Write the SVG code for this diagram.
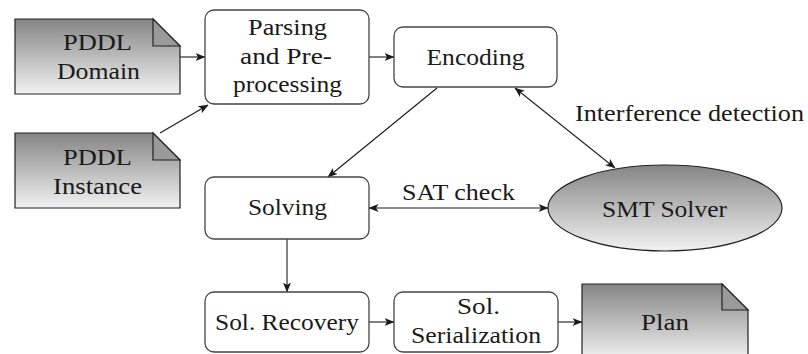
<svg xmlns="http://www.w3.org/2000/svg" width="808" height="354" viewBox="0 0 808 354">
<defs>
<linearGradient id="g" x1="0" y1="0" x2="0" y2="1">
<stop offset="0" stop-color="#858585"/>
<stop offset="1" stop-color="#f2f2f2"/>
</linearGradient>
<marker id="a" viewBox="0 0 10 8" refX="9.5" refY="4" markerWidth="10" markerHeight="8" markerUnits="userSpaceOnUse" orient="auto-start-reverse">
<path d="M0,0 L10,4 L0,8 L2.5,4 Z" fill="#1a1a1a"/>
</marker>
<style>
.box{fill:#fff;stroke:#444;stroke-width:1.3}
.doc{fill:url(#g);stroke:#222;stroke-width:1.2}
.fold{fill:#9a9a9a;stroke:#222;stroke-width:1.2}
.ln{fill:none;stroke:#1a1a1a;stroke-width:1.1;marker-end:url(#a)}
.bi{marker-start:url(#a)}
text{font-size:22.5px;fill:#1a1a1a;text-anchor:middle}
</style>
</defs>
<rect width="808" height="354" fill="#fff"/>
<g font-family="Liberation Serif, DejaVu Serif, Times New Roman, serif">
<g id="connectors">
<line class="ln" x1="180" y1="57" x2="205" y2="57"/>
<line class="ln" x1="160" y1="133" x2="208" y2="105"/>
<line class="ln" x1="369" y1="57" x2="394" y2="57"/>
<line class="ln" x1="437" y1="88" x2="328" y2="177"/>
<line class="ln bi" x1="515" y1="88" x2="615" y2="168"/>
<line class="ln bi" x1="369" y1="208" x2="548" y2="208"/>
<line class="ln" x1="287" y1="239" x2="287" y2="292"/>
<line class="ln" x1="369" y1="322" x2="394" y2="322"/>
<line class="ln" x1="558" y1="322" x2="582" y2="322"/>
<text x="689.5" y="121" textLength="229" lengthAdjust="spacingAndGlyphs">Interference detection</text>
<text x="458.5" y="200" textLength="113" lengthAdjust="spacingAndGlyphs">SAT check</text>
</g>
<g id="pddl-domain">
<path class="doc" d="M15,19 H153 L180,46 V94 H15 Z"/>
<path class="fold" d="M153,19 L180,46 H153 Z"/>
<text x="97.5" y="50" textLength="69" lengthAdjust="spacingAndGlyphs">PDDL</text>
<text x="98.5" y="79" textLength="83" lengthAdjust="spacingAndGlyphs">Domain</text>
</g>
<g id="pddl-instance">
<path class="doc" d="M15,133 H153 L180,160 V208 H15 Z"/>
<path class="fold" d="M153,133 L180,160 H153 Z"/>
<text x="97.5" y="165" textLength="69" lengthAdjust="spacingAndGlyphs">PDDL</text>
<text x="97.5" y="194" textLength="89" lengthAdjust="spacingAndGlyphs">Instance</text>
</g>
<g id="parsing">
<rect class="box" x="205" y="10" width="164" height="94" rx="9"/>
<text x="287.5" y="35" textLength="79" lengthAdjust="spacingAndGlyphs">Parsing</text>
<text x="286" y="64" textLength="92" lengthAdjust="spacingAndGlyphs">and Pre-</text>
<text x="287.5" y="92" textLength="109" lengthAdjust="spacingAndGlyphs">processing</text>
</g>
<g id="encoding">
<rect class="box" x="394" y="27" width="163" height="60" rx="9"/>
<text x="475.5" y="65" textLength="98" lengthAdjust="spacingAndGlyphs">Encoding</text>
</g>
<g id="solving">
<rect class="box" x="205" y="177" width="164" height="62" rx="9"/>
<text x="287.5" y="215" textLength="79" lengthAdjust="spacingAndGlyphs">Solving</text>
</g>
<g id="smt-solver">
<ellipse cx="665" cy="208" rx="117" ry="43" fill="url(#g)" stroke="#222" stroke-width="1.2"/>
<text x="664.5" y="217" textLength="125" lengthAdjust="spacingAndGlyphs">SMT Solver</text>
</g>
<g id="sol-recovery">
<rect class="box" x="205" y="292" width="164" height="60" rx="9"/>
<text x="287" y="330" textLength="144" lengthAdjust="spacingAndGlyphs">Sol. Recovery</text>
</g>
<g id="sol-serialization">
<rect class="box" x="394" y="292" width="164" height="60" rx="9"/>
<text x="478.5" y="314" textLength="43" lengthAdjust="spacingAndGlyphs">Sol.</text>
<text x="476" y="343" textLength="130" lengthAdjust="spacingAndGlyphs">Serialization</text>
</g>
<g id="plan">
<path class="doc" d="M582,284 H722 L748,310 V360 H582 Z"/>
<path class="fold" d="M722,284 L748,310 H722 Z"/>
<text x="665" y="330" textLength="48" lengthAdjust="spacingAndGlyphs">Plan</text>
</g>
</g>
</svg>
